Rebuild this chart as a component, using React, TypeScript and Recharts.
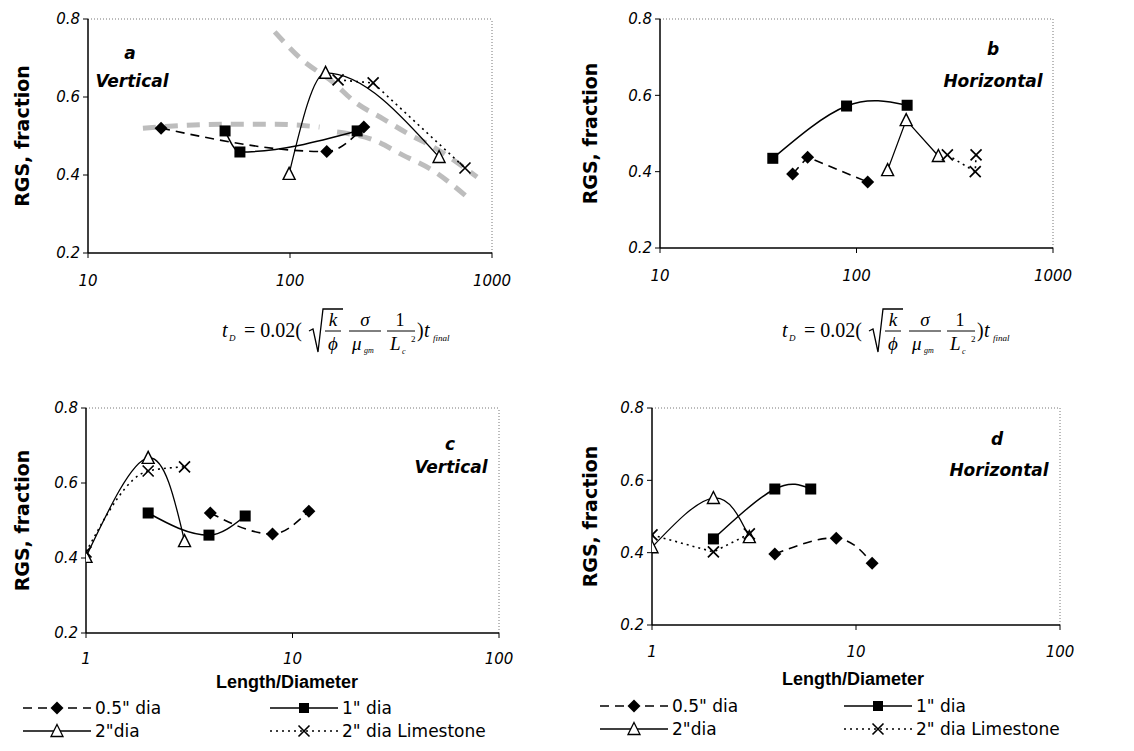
import { LineChart, Line, XAxis, YAxis, ReferenceLine } from "recharts";

// RGS fraction vs dimensionless time / length-diameter, four core sizes
const tTicks = [10, 100, 1000];
const ldTicks = [1, 10, 100];
const rgsTicks = [0.2, 0.4, 0.6, 0.8];

// panel a - vertical, dimensionless time
const aHalf = [
  { x: 23, y: 0.52 },
  { x: 152, y: 0.46 },
  { x: 232, y: 0.523 },
];
const aOne = [
  { x: 47.7, y: 0.513 },
  { x: 56.5, y: 0.459 },
  { x: 215, y: 0.513 },
];
const aTwo = [
  { x: 99, y: 0.403 },
  { x: 150, y: 0.662 },
  { x: 547, y: 0.446 },
];
const aLime = [
  { x: 173, y: 0.644 },
  { x: 258, y: 0.636 },
  { x: 735, y: 0.418 },
];
// grey trend bands in panel a
const aBandFlat = [
  { x: 18.7, y: 0.52 },
  { x: 30, y: 0.527 },
  { x: 50, y: 0.53 },
  { x: 85, y: 0.53 },
  { x: 140, y: 0.523 },
];
const aBandUpper = [
  { x: 84, y: 0.767 },
  { x: 115, y: 0.695 },
  { x: 163, y: 0.638 },
  { x: 210, y: 0.587 },
  { x: 289, y: 0.544 },
  { x: 393, y: 0.503 },
  { x: 511, y: 0.472 },
  { x: 843, y: 0.395 },
];
const aBandLower = [
  { x: 171, y: 0.51 },
  { x: 258, y: 0.49 },
  { x: 362, y: 0.451 },
  { x: 505, y: 0.413 },
  { x: 751, y: 0.344 },
];

// panel b - horizontal, dimensionless time
const bHalf = [
  { x: 47.3, y: 0.394 },
  { x: 56.4, y: 0.438 },
  { x: 114, y: 0.373 },
];
const bOne = [
  { x: 37.5, y: 0.435 },
  { x: 89, y: 0.572 },
  { x: 181, y: 0.574 },
];
const bTwo = [
  { x: 144, y: 0.404 },
  { x: 179, y: 0.535 },
  { x: 261, y: 0.441 },
];
const bLime = [
  { x: 290, y: 0.444 },
  { x: 402, y: 0.4 },
  { x: 406, y: 0.444 },
];

// panel c - vertical, length/diameter
const cHalf = [
  { x: 4, y: 0.52 },
  { x: 8, y: 0.464 },
  { x: 12, y: 0.525 },
];
const cOne = [
  { x: 2, y: 0.52 },
  { x: 3.94, y: 0.461 },
  { x: 5.9, y: 0.512 },
];
const cTwo = [
  { x: 1, y: 0.403 },
  { x: 2, y: 0.667 },
  { x: 3, y: 0.445 },
];
const cLime = [
  { x: 1, y: 0.416 },
  { x: 2, y: 0.632 },
  { x: 3, y: 0.643 },
];

// panel d - horizontal, length/diameter
const dHalf = [
  { x: 4, y: 0.396 },
  { x: 8, y: 0.44 },
  { x: 12, y: 0.371 },
];
const dOne = [
  { x: 2, y: 0.438 },
  { x: 4, y: 0.576 },
  { x: 6, y: 0.576 },
];
const dTwo = [
  { x: 1, y: 0.415 },
  { x: 2, y: 0.551 },
  { x: 3, y: 0.443 },
];
const dLime = [
  { x: 1, y: 0.449 },
  { x: 2, y: 0.402 },
  { x: 3, y: 0.452 },
];

const legendNames = ['0.5" dia', '1" dia', '2"dia', '2" dia Limestone'];

const SANS = "'DejaVu Sans', Arial, sans-serif";
const ARIAL = "'Liberation Sans', Arial, sans-serif";
const SERIF = "'Liberation Serif', 'Times New Roman', serif";

const diamondPath = (x: number, y: number) => `M${x},${y - 6.5}L${x + 6.5},${y}L${x},${y + 6.5}L${x - 6.5},${y}Z`;
const trianglePath = (x: number, y: number) => `M${x},${y - 6.5}L${x + 6},${y + 5.5}L${x - 6},${y + 5.5}Z`;
const crossPath = (x: number, y: number) => `M${x - 5.5},${y - 5.5}L${x + 5.5},${y + 5.5}M${x - 5.5},${y + 5.5}L${x + 5.5},${y - 5.5}`;

const diamondDot = (p: any) =>
  p.cx == null ? <g key={p.index} /> : <path key={p.index} d={diamondPath(p.cx, p.cy)} fill="#000" />;

const squareDot = (p: any) =>
  p.cx == null ? (
    <g key={p.index} />
  ) : (
    <rect key={p.index} x={p.cx - 5.5} y={p.cy - 5.5} width={11} height={11} fill="#000" />
  );

const triangleDot = (p: any) =>
  p.cx == null ? (
    <g key={p.index} />
  ) : (
    <path key={p.index} d={trianglePath(p.cx, p.cy)} fill="#fff" stroke="#000" strokeWidth={1.4} />
  );

const crossDot = (p: any) =>
  p.cx == null ? <g key={p.index} /> : <path key={p.index} d={crossPath(p.cx, p.cy)} stroke="#000" strokeWidth={1.7} />;

const styles = [
  { dash: "9 6", width: 1.6, dot: diamondDot },
  { dash: undefined, width: 1.5, dot: squareDot },
  { dash: undefined, width: 1.3, dot: triangleDot },
  { dash: "2 4", width: 1.6, dot: crossDot },
];

type Pt = { x: number; y: number };

type PanelProps = {
  left: number;
  top: number;
  margin: { top: number; right: number; bottom: number; left: number };
  yWidth: number;
  xDomain: [number, number];
  xTicks: number[];
  labelX: number;
  tickGap: number;
  series: Pt[][];
  curves: ("monotone" | "natural" | "linear")[];
  bands?: Pt[][];
};

function Panel(props: PanelProps) {
  const { left, top, margin, yWidth, xDomain, xTicks, labelX, tickGap, series, curves, bands } = props;
  const tickStyle = { fontFamily: SANS, fontStyle: "italic", fontSize: 15, fill: "#000" };
  return (
    <div style={{ position: "absolute", left, top }}>
      <LineChart width={540} height={300} margin={margin}>
        <XAxis
          type="number"
          dataKey="x"
          scale="log"
          domain={xDomain}
          ticks={xTicks}
          allowDataOverflow
          height={40}
          tick={tickStyle}
          tickSize={5}
          tickMargin={tickGap}
          axisLine={{ stroke: "#000", strokeWidth: 1.5 }}
          tickLine={{ stroke: "#000" }}
        />
        <YAxis
          type="number"
          dataKey="y"
          domain={[0.2, 0.8]}
          ticks={rgsTicks}
          width={yWidth}
          tick={tickStyle}
          tickSize={5}
          tickMargin={3}
          tickFormatter={(v: number) => v.toFixed(1)}
          axisLine={{ stroke: "#000", strokeWidth: 1.5 }}
          tickLine={{ stroke: "#000" }}
          label={{
            value: "RGS, fraction",
            angle: -90,
            position: "insideLeft",
            offset: labelX,
            style: { textAnchor: "middle", fontFamily: SANS, fontWeight: "bold", fontSize: 19, fill: "#000" },
          }}
        />
        <ReferenceLine y={0.8} stroke="#777" strokeDasharray="1 2" />
        <ReferenceLine x={xDomain[1]} stroke="#777" strokeDasharray="1 2" />
        {(bands || []).map((b, i) => (
          <Line
            key={"band" + i}
            data={b}
            dataKey="y"
            type="monotone"
            stroke="#bdbdbd"
            strokeWidth={5}
            strokeDasharray="13 9"
            dot={false}
            isAnimationActive={false}
          />
        ))}
        {series.map((s, i) => (
          <Line
            key={"s" + i}
            data={s}
            dataKey="y"
            name={legendNames[i]}
            type={curves[i]}
            stroke="#000"
            strokeWidth={styles[i].width}
            strokeDasharray={styles[i].dash}
            dot={styles[i].dot}
            isAnimationActive={false}
          />
        ))}
      </LineChart>
    </div>
  );
}

function LegendItem({ x, y, i }: { x: number; y: number; i: number }) {
  const s = styles[i];
  const m = x + 34;
  let marker = null;
  if (i === 0) marker = <path d={diamondPath(m, y)} fill="#000" />;
  if (i === 1) marker = <rect x={m - 5} y={y - 5} width={10} height={10} fill="#000" />;
  if (i === 2) marker = <path d={trianglePath(m, y)} fill="#fff" stroke="#000" strokeWidth={1.3} />;
  if (i === 3) marker = <path d={crossPath(m, y)} stroke="#000" strokeWidth={1.6} />;
  return (
    <g>
      <line x1={x} y1={y} x2={x + 68} y2={y} stroke="#000" strokeWidth={s.width} strokeDasharray={s.dash} />
      {marker}
      <text x={x + 72} y={y + 6} fontFamily={SANS} fontSize={17} fill="#000">
        {legendNames[i]}
      </text>
    </g>
  );
}

function Equation({ x, y }: { x: number; y: number }) {
  // t_D = 0.02( sqrt(k/phi) sigma/mu_gm 1/Lc^2 ) t_final
  return (
    <g fontFamily={SERIF} fill="#000">
      <text x={x} y={y} fontSize={20} fontStyle="italic">t</text>
      <text x={x + 7} y={y + 4} fontSize={9} fontStyle="italic">D</text>
      <text x={x + 22} y={y} fontSize={20}>= 0.02(</text>
      <path
        d={`M${x + 87},${y - 6}L${x + 91},${y - 8}L${x + 96},${y + 15}L${x + 101},${y - 28}L${x + 121},${y - 28}`}
        stroke="#000"
        strokeWidth={1.3}
        fill="none"
      />
      <text x={x + 111} y={y - 11} fontSize={19} fontStyle="italic" textAnchor="middle">k</text>
      <line x1={x + 103} y1={y - 6} x2={x + 119} y2={y - 6} stroke="#000" />
      <text x={x + 111} y={y + 13} fontSize={19} fontStyle="italic" textAnchor="middle">ϕ</text>
      <text x={x + 143} y={y - 11} fontSize={19} fontStyle="italic" textAnchor="middle">σ</text>
      <line x1={x + 127} y1={y - 6} x2={x + 159} y2={y - 6} stroke="#000" />
      <text x={x + 130} y={y + 13} fontSize={19} fontStyle="italic">μ</text>
      <text x={x + 142} y={y + 16} fontSize={8} fontStyle="italic">gm</text>
      <text x={x + 178} y={y - 11} fontSize={18} textAnchor="middle">1</text>
      <line x1={x + 165} y1={y - 6} x2={x + 193} y2={y - 6} stroke="#000" />
      <text x={x + 168} y={y + 13} fontSize={19} fontStyle="italic">L</text>
      <text x={x + 180} y={y + 17} fontSize={8} fontStyle="italic">c</text>
      <text x={x + 189} y={y + 5} fontSize={9}>2</text>
      <text x={x + 195} y={y} fontSize={20}>)</text>
      <text x={x + 202} y={y} fontSize={20} fontStyle="italic">t</text>
      <text x={x + 211} y={y + 4} fontSize={9} fontStyle="italic">final</text>
    </g>
  );
}

const boldItalic = { fontFamily: SANS, fontWeight: "bold" as const, fontStyle: "italic" as const, fontSize: 17, fill: "#000" };
const axisTitle = { fontFamily: ARIAL, fontWeight: "bold" as const, fontSize: 18, fill: "#000" };

export default function App() {
  return (
    <div style={{ position: "absolute", left: 0, top: 0, width: 1134, height: 751, background: "#fff", overflow: "hidden" }}>
      <Panel
        left={0}
        top={0}
        margin={{ top: 19, right: 48, bottom: 7, left: 0 }}
        yWidth={88}
        xDomain={[10, 1000]}
        xTicks={tTicks}
        labelX={22}
        tickGap={17}
        series={[aHalf, aOne, aTwo, aLime]}
        curves={["monotone", "monotone", "monotone", "linear"]}
        bands={[aBandFlat, aBandUpper, aBandLower]}
      />
      <Panel
        left={560}
        top={0}
        margin={{ top: 19, right: 47, bottom: 12, left: 0 }}
        yWidth={100}
        xDomain={[10, 1000]}
        xTicks={tTicks}
        labelX={30}
        tickGap={17}
        series={[bHalf, bOne, bTwo, bLime]}
        curves={["linear", "natural", "linear", "linear"]}
      />
      <Panel
        left={0}
        top={380}
        margin={{ top: 28, right: 41, bottom: 7, left: 0 }}
        yWidth={86}
        xDomain={[1, 100]}
        xTicks={ldTicks}
        labelX={22}
        tickGap={15}
        series={[cHalf, cOne, cTwo, cLime]}
        curves={["monotone", "monotone", "natural", "monotone"]}
      />
      <Panel
        left={560}
        top={380}
        margin={{ top: 28, right: 40, bottom: 15, left: 0 }}
        yWidth={92}
        xDomain={[1, 100]}
        xTicks={ldTicks}
        labelX={30}
        tickGap={16}
        series={[dHalf, dOne, dTwo, dLime]}
        curves={["natural", "natural", "natural", "linear"]}
      />
      <svg width={1134} height={751} style={{ position: "absolute", left: 0, top: 0, pointerEvents: "none" }}>
        <text x={130} y={59} textAnchor="middle" {...boldItalic}>a</text>
        <text x={132} y={87} textAnchor="middle" {...boldItalic}>Vertical</text>
        <text x={993} y={55} textAnchor="middle" {...boldItalic}>b</text>
        <text x={993} y={87} textAnchor="middle" {...boldItalic}>Horizontal</text>
        <text x={450} y={450} textAnchor="middle" {...boldItalic}>c</text>
        <text x={451} y={473} textAnchor="middle" {...boldItalic}>Vertical</text>
        <text x={997} y={445} textAnchor="middle" {...boldItalic}>d</text>
        <text x={999} y={476} textAnchor="middle" {...boldItalic}>Horizontal</text>
        <Equation x={222} y={337} />
        <Equation x={782} y={337} />
        <text x={287} y={688} textAnchor="middle" {...axisTitle}>Length/Diameter</text>
        <text x={853} y={685} textAnchor="middle" {...axisTitle}>Length/Diameter</text>
        <LegendItem x={23} y={708} i={0} />
        <LegendItem x={270} y={708} i={1} />
        <LegendItem x={23} y={731} i={2} />
        <LegendItem x={270} y={731} i={3} />
        <LegendItem x={600} y={706} i={0} />
        <LegendItem x={844} y={706} i={1} />
        <LegendItem x={600} y={729} i={2} />
        <LegendItem x={844} y={729} i={3} />
      </svg>
    </div>
  );
}
